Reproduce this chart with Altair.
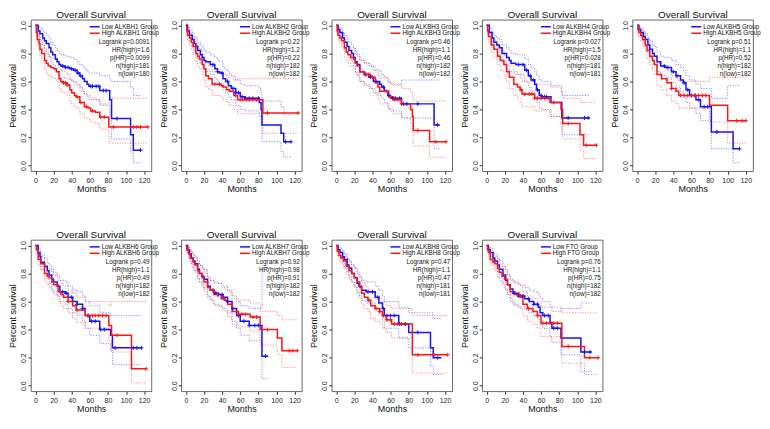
import altair as alt
import pandas as pd
import numpy as np

FONT = "Liberation Sans Narrow, Liberation Sans, Arial, sans-serif"
BLUE = "#1414ff"
RED = "#ff1414"

GENES = ["ALKBH1", "ALKBH2", "ALKBH3", "ALKBH4", "ALKBH5", "ALKBH6", "ALKBH7", "ALKBH8", "FTO"]

# rows: (months, survival, lower CI, upper CI)
LOW_ALKBH1 = [(0,1.0,1.0,1.0),(3,0.96,0.93,0.99),(5,0.94,0.90,0.98),(8,0.91,0.86,0.96),(10,0.89,0.84,0.95),(12,0.87,0.81,0.93),(15,0.84,0.78,0.91),(17,0.81,0.74,0.88),(19,0.79,0.72,0.86),(22,0.76,0.69,0.84),(24,0.74,0.66,0.82),(26,0.72,0.64,0.80),(28,0.71,0.63,0.79),(33,0.70,0.62,0.78),(38,0.69,0.61,0.77),(42,0.68,0.60,0.76),(46,0.66,0.58,0.74),(49,0.64,0.56,0.72),(52,0.62,0.53,0.71),(54,0.60,0.51,0.69),(57,0.58,0.49,0.67),(59,0.565,0.47,0.66),(71,0.535,0.43,0.64),(82,0.47,0.36,0.61),(84,0.335,0.19,0.60),(105,0.22,0.09,0.56),(108,0.11,0.02,0.50),(116,0.11,0.02,0.50)]
HIGH_ALKBH1 = [(0,1.0,1.0,1.0),(1,0.95,0.92,0.98),(2,0.90,0.86,0.95),(4,0.87,0.82,0.92),(5,0.83,0.78,0.89),(7,0.80,0.74,0.86),(10,0.75,0.69,0.82),(12,0.73,0.66,0.80),(14,0.71,0.64,0.78),(17,0.70,0.63,0.77),(20,0.69,0.62,0.76),(23,0.67,0.60,0.74),(26,0.62,0.55,0.69),(28,0.60,0.53,0.68),(30,0.59,0.52,0.67),(35,0.575,0.50,0.65),(38,0.54,0.46,0.62),(40,0.52,0.44,0.60),(43,0.50,0.42,0.58),(45,0.49,0.41,0.57),(49,0.45,0.37,0.53),(54,0.42,0.34,0.51),(58,0.41,0.33,0.50),(61,0.39,0.31,0.48),(66,0.38,0.30,0.47),(71,0.345,0.26,0.44),(81,0.275,0.16,0.48),(124,0.275,0.16,0.48)]

LOW_ALKBH2 = [(0,1.0,1.0,1.0),(2,0.96,0.93,0.99),(4,0.93,0.89,0.97),(7,0.90,0.85,0.95),(9,0.87,0.82,0.92),(11,0.85,0.80,0.91),(13,0.82,0.76,0.88),(16,0.79,0.73,0.86),(18,0.77,0.71,0.84),(20,0.75,0.69,0.82),(22,0.74,0.67,0.81),(27,0.72,0.65,0.79),(32,0.69,0.62,0.77),(35,0.67,0.60,0.75),(37,0.66,0.58,0.74),(41,0.62,0.54,0.70),(44,0.60,0.52,0.68),(47,0.57,0.49,0.66),(50,0.55,0.47,0.64),(55,0.52,0.43,0.61),(60,0.49,0.40,0.58),(65,0.48,0.39,0.57),(81,0.45,0.35,0.55),(83,0.40,0.29,0.52),(84,0.29,0.17,0.46),(105,0.23,0.10,0.42),(108,0.17,0.06,0.36),(116,0.17,0.06,0.36)]
HIGH_ALKBH2 = [(0,1.0,1.0,1.0),(1,0.96,0.93,0.99),(2,0.93,0.89,0.97),(4,0.91,0.86,0.95),(6,0.88,0.83,0.93),(8,0.85,0.79,0.91),(11,0.80,0.74,0.87),(13,0.78,0.71,0.85),(15,0.76,0.69,0.83),(18,0.72,0.65,0.80),(20,0.69,0.61,0.77),(22,0.64,0.56,0.73),(25,0.62,0.54,0.71),(29,0.58,0.50,0.67),(39,0.57,0.49,0.66),(41,0.56,0.47,0.65),(45,0.54,0.45,0.64),(48,0.53,0.43,0.63),(53,0.50,0.40,0.61),(57,0.47,0.37,0.62),(85,0.375,0.23,0.62),(124,0.375,0.23,0.62)]

LOW_ALKBH3 = [(0,1.0,1.0,1.0),(2,0.97,0.95,0.99),(4,0.95,0.92,0.98),(7,0.91,0.87,0.95),(9,0.88,0.83,0.93),(12,0.85,0.80,0.91),(14,0.82,0.76,0.88),(17,0.80,0.74,0.86),(19,0.77,0.71,0.84),(21,0.74,0.67,0.81),(23,0.72,0.65,0.79),(26,0.67,0.60,0.75),(31,0.65,0.58,0.73),(36,0.63,0.55,0.71),(41,0.60,0.52,0.68),(48,0.58,0.50,0.67),(50,0.56,0.48,0.65),(53,0.53,0.45,0.63),(57,0.50,0.41,0.60),(60,0.48,0.39,0.58),(72,0.44,0.34,0.61),(108,0.29,0.12,0.61),(114,0.29,0.12,0.61)]
HIGH_ALKBH3 = [(0,1.0,1.0,1.0),(1,0.96,0.93,0.99),(2,0.93,0.89,0.97),(4,0.91,0.87,0.95),(6,0.89,0.84,0.94),(9,0.84,0.78,0.90),(11,0.81,0.75,0.87),(13,0.79,0.73,0.85),(16,0.77,0.71,0.84),(19,0.76,0.69,0.83),(21,0.73,0.66,0.80),(23,0.71,0.64,0.78),(26,0.67,0.60,0.75),(31,0.65,0.57,0.73),(38,0.63,0.55,0.71),(43,0.59,0.51,0.68),(46,0.56,0.47,0.65),(48,0.53,0.44,0.62),(58,0.49,0.40,0.59),(63,0.47,0.37,0.57),(72,0.44,0.34,0.55),(82,0.40,0.30,0.52),(84,0.35,0.24,0.49),(85,0.25,0.14,0.46),(103,0.17,0.06,0.46),(121,0.17,0.06,0.46)]

LOW_ALKBH4 = [(0,1.0,1.0,1.0),(3,0.95,0.92,0.98),(6,0.91,0.87,0.95),(8,0.88,0.83,0.93),(11,0.86,0.81,0.91),(14,0.84,0.78,0.90),(17,0.80,0.74,0.86),(22,0.77,0.70,0.84),(25,0.75,0.68,0.82),(27,0.73,0.66,0.80),(32,0.72,0.65,0.79),(42,0.68,0.60,0.76),(46,0.64,0.56,0.72),(49,0.61,0.53,0.70),(53,0.58,0.49,0.67),(55,0.54,0.45,0.64),(58,0.50,0.41,0.61),(61,0.49,0.40,0.60),(71,0.45,0.35,0.57),(83,0.34,0.22,0.50),(114,0.34,0.22,0.50)]
HIGH_ALKBH4 = [(0,1.0,1.0,1.0),(1,0.96,0.93,0.99),(2,0.92,0.88,0.96),(5,0.86,0.81,0.91),(8,0.83,0.77,0.89),(12,0.78,0.72,0.85),(15,0.75,0.68,0.82),(19,0.72,0.65,0.79),(22,0.67,0.60,0.75),(25,0.63,0.55,0.71),(30,0.58,0.50,0.67),(34,0.56,0.48,0.65),(37,0.54,0.45,0.63),(39,0.51,0.42,0.60),(53,0.48,0.39,0.58),(70,0.45,0.35,0.56),(82,0.40,0.30,0.53),(84,0.30,0.19,0.48),(103,0.22,0.11,0.45),(107,0.145,0.05,0.45),(121,0.145,0.05,0.45)]

LOW_ALKBH5 = [(0,1.0,1.0,1.0),(2,0.97,0.95,0.99),(4,0.95,0.92,0.98),(7,0.92,0.88,0.96),(9,0.90,0.85,0.94),(12,0.86,0.81,0.91),(14,0.83,0.77,0.89),(17,0.80,0.74,0.86),(19,0.78,0.72,0.85),(22,0.74,0.67,0.81),(26,0.71,0.64,0.78),(31,0.70,0.63,0.77),(38,0.67,0.59,0.75),(43,0.64,0.56,0.72),(48,0.61,0.53,0.70),(51,0.59,0.50,0.68),(54,0.54,0.45,0.64),(58,0.50,0.41,0.61),(65,0.47,0.37,0.58),(70,0.42,0.32,0.55),(82,0.24,0.12,0.48),(100,0.24,0.12,0.57),(106,0.12,0.02,0.57),(113,0.12,0.02,0.57)]
HIGH_ALKBH5 = [(0,1.0,1.0,1.0),(1,0.97,0.95,0.99),(2,0.95,0.92,0.98),(4,0.93,0.89,0.97),(6,0.90,0.85,0.94),(9,0.86,0.81,0.91),(11,0.82,0.76,0.88),(14,0.78,0.72,0.85),(17,0.75,0.68,0.82),(19,0.72,0.65,0.79),(22,0.65,0.57,0.73),(27,0.62,0.54,0.71),(33,0.59,0.50,0.68),(38,0.55,0.46,0.64),(43,0.53,0.44,0.62),(46,0.50,0.41,0.60),(80,0.43,0.31,0.63),(100,0.32,0.16,0.63),(120,0.32,0.16,0.63)]

LOW_ALKBH6 = [(0,1.0,1.0,1.0),(3,0.95,0.92,0.98),(5,0.92,0.88,0.96),(6,0.88,0.83,0.93),(10,0.85,0.80,0.91),(13,0.82,0.76,0.88),(15,0.79,0.73,0.86),(18,0.76,0.69,0.83),(20,0.74,0.67,0.81),(24,0.71,0.64,0.78),(27,0.67,0.60,0.75),(33,0.66,0.58,0.74),(36,0.63,0.55,0.71),(41,0.60,0.52,0.68),(46,0.58,0.50,0.67),(52,0.55,0.46,0.64),(55,0.50,0.41,0.60),(60,0.46,0.36,0.57),(71,0.40,0.30,0.52),(83,0.36,0.25,0.50),(85,0.27,0.15,0.50),(117,0.27,0.15,0.50)]
HIGH_ALKBH6 = [(0,1.0,1.0,1.0),(1,0.97,0.95,0.99),(3,0.90,0.86,0.94),(6,0.87,0.82,0.92),(10,0.80,0.74,0.86),(13,0.78,0.72,0.84),(15,0.77,0.70,0.83),(18,0.74,0.67,0.81),(20,0.72,0.65,0.79),(25,0.67,0.60,0.75),(28,0.65,0.57,0.73),(31,0.63,0.55,0.71),(36,0.60,0.52,0.68),(41,0.57,0.48,0.66),(45,0.54,0.45,0.63),(55,0.50,0.41,0.60),(81,0.43,0.32,0.57),(84,0.36,0.24,0.60),(106,0.12,0.02,0.60),(122,0.12,0.02,0.60)]

LOW_ALKBH7 = [(0,1.0,1.0,1.0),(2,0.97,0.95,0.99),(4,0.94,0.91,0.97),(6,0.91,0.87,0.95),(8,0.89,0.84,0.94),(10,0.87,0.82,0.92),(13,0.83,0.77,0.89),(15,0.80,0.74,0.86),(18,0.78,0.72,0.84),(20,0.76,0.69,0.83),(24,0.71,0.64,0.78),(27,0.68,0.61,0.75),(31,0.66,0.58,0.74),(36,0.65,0.57,0.73),(41,0.63,0.55,0.71),(46,0.60,0.52,0.68),(51,0.55,0.46,0.64),(56,0.50,0.41,0.60),(60,0.46,0.36,0.57),(70,0.43,0.32,0.55),(84,0.21,0.05,0.84),(91,0.21,0.05,0.84)]
HIGH_ALKBH7 = [(0,1.0,1.0,1.0),(1,0.97,0.95,0.99),(3,0.94,0.91,0.97),(5,0.91,0.87,0.95),(8,0.88,0.83,0.93),(10,0.86,0.81,0.91),(13,0.82,0.76,0.88),(15,0.80,0.74,0.86),(18,0.77,0.71,0.84),(20,0.74,0.67,0.81),(24,0.70,0.63,0.77),(27,0.68,0.61,0.75),(31,0.65,0.57,0.73),(39,0.62,0.54,0.70),(43,0.61,0.53,0.69),(46,0.58,0.49,0.67),(51,0.53,0.44,0.62),(58,0.51,0.42,0.61),(71,0.49,0.39,0.59),(82,0.40,0.29,0.53),(101,0.34,0.22,0.50),(106,0.25,0.13,0.47),(123,0.25,0.13,0.47)]

LOW_ALKBH8 = [(0,1.0,1.0,1.0),(2,0.97,0.95,0.99),(4,0.95,0.92,0.98),(7,0.92,0.88,0.96),(9,0.90,0.85,0.94),(12,0.86,0.81,0.91),(14,0.84,0.78,0.89),(17,0.80,0.74,0.86),(20,0.77,0.71,0.84),(23,0.73,0.66,0.80),(25,0.71,0.64,0.78),(28,0.68,0.61,0.75),(33,0.67,0.59,0.74),(43,0.63,0.55,0.71),(47,0.59,0.51,0.68),(51,0.55,0.46,0.64),(53,0.50,0.41,0.60),(69,0.44,0.34,0.56),(80,0.38,0.27,0.52),(104,0.27,0.14,0.52),(107,0.20,0.08,0.48),(116,0.20,0.08,0.48)]
HIGH_ALKBH8 = [(0,1.0,1.0,1.0),(1,0.96,0.93,0.99),(3,0.93,0.89,0.97),(5,0.91,0.87,0.95),(8,0.89,0.84,0.94),(11,0.85,0.79,0.91),(14,0.82,0.76,0.88),(17,0.80,0.74,0.86),(20,0.77,0.70,0.84),(23,0.74,0.67,0.81),(26,0.70,0.62,0.77),(28,0.66,0.58,0.74),(31,0.63,0.55,0.71),(35,0.61,0.53,0.69),(38,0.57,0.48,0.66),(43,0.55,0.46,0.64),(48,0.53,0.44,0.62),(51,0.50,0.41,0.60),(55,0.47,0.38,0.57),(61,0.44,0.34,0.55),(84,0.22,0.09,0.50),(123,0.22,0.09,0.50)]

LOW_FTO = [(0,1.0,1.0,1.0),(2,0.97,0.95,0.99),(4,0.95,0.92,0.98),(7,0.91,0.87,0.95),(9,0.89,0.84,0.94),(12,0.86,0.81,0.91),(14,0.83,0.77,0.89),(18,0.79,0.73,0.85),(21,0.75,0.68,0.82),(23,0.72,0.65,0.79),(26,0.69,0.62,0.76),(29,0.66,0.58,0.74),(35,0.64,0.56,0.72),(42,0.62,0.54,0.70),(47,0.60,0.52,0.68),(52,0.58,0.50,0.67),(57,0.56,0.47,0.65),(59,0.52,0.43,0.62),(62,0.50,0.41,0.60),(70,0.45,0.35,0.56),(72,0.41,0.31,0.53),(82,0.34,0.22,0.55),(104,0.24,0.10,0.59),(116,0.24,0.10,0.59)]
HIGH_FTO = [(0,1.0,1.0,1.0),(1,0.97,0.95,0.99),(2,0.95,0.92,0.98),(4,0.90,0.86,0.94),(7,0.88,0.83,0.93),(9,0.87,0.82,0.92),(12,0.84,0.78,0.90),(14,0.81,0.75,0.87),(17,0.78,0.72,0.85),(20,0.76,0.69,0.83),(23,0.72,0.65,0.79),(26,0.67,0.60,0.75),(31,0.65,0.57,0.73),(37,0.63,0.55,0.71),(40,0.58,0.50,0.67),(45,0.55,0.46,0.64),(51,0.53,0.44,0.62),(56,0.50,0.41,0.60),(60,0.445,0.35,0.56),(83,0.28,0.16,0.52),(108,0.20,0.08,0.52),(123,0.20,0.08,0.52)]

# censoring times (months)
CENS_LOW = [
    [30,33,36,40,44,47,50,61,63,67,70,75,78,90,116],
    [30,35,40,46,52,55,58,62,66,70,74,80,110,116],
    [32,38,44,52,58,62,65,70,74,78,90,112],
    [35,40,44,48,52,56,60,64,66,90,108,112],
    [30,34,40,44,52,56,60,64,68,74,78,88,113],
    [30,34,40,46,52,58,62,66,72,76,88,108,112,117],
    [30,33,36,40,46,52,58,64,70,76,80,88],
    [35,40,46,52,56,60,64,70,76,90,112],
    [30,35,40,46,52,56,64,68,74,78,108,114],
]
CENS_HIGH = [
    [31,33,35,46,50,56,63,72,76,86,108,112,116,124],
    [32,37,55,60,63,67,70,74,78,90,124],
    [33,36,40,55,60,64,68,72,90,110,121],
    [38,42,47,50,53,56,60,64,68,74,90,110,121],
    [38,48,52,56,60,64,68,72,76,110,116,120],
    [36,46,58,63,66,70,74,78,90,122],
    [30,35,42,58,62,66,74,78,90,114,118,123],
    [36,44,48,52,56,60,64,68,72,76,90,108,123],
    [36,46,56,62,66,70,74,78,90,114,123],
]

LOGRANK_P = ["0.0091", "0.22", "0.46", "0.027", "0.51", "0.49", "0.92", "0.47", "0.76"]
HR_HIGH = ["1.6", "1.2", "1.1", "1.5", "1.1", "1.1", "0.98", "1.1", "1.1"]
P_HR = ["0.0099", "0.22", "0.46", "0.028", "0.52", "0.49", "0.91", "0.47", "0.75"]
N_HIGH = [181, 182, 182, 181, 182, 182, 182, 181, 182]
N_LOW = [180, 182, 182, 181, 182, 182, 182, 181, 182]

LOW_ROWS = [LOW_ALKBH1, LOW_ALKBH2, LOW_ALKBH3, LOW_ALKBH4, LOW_ALKBH5, LOW_ALKBH6, LOW_ALKBH7, LOW_ALKBH8, LOW_FTO]
HIGH_ROWS = [HIGH_ALKBH1, HIGH_ALKBH2, HIGH_ALKBH3, HIGH_ALKBH4, HIGH_ALKBH5, HIGH_ALKBH6, HIGH_ALKBH7, HIGH_ALKBH8, HIGH_FTO]

W, H = 121, 152
COLOR = alt.Color("grp:N", scale=alt.Scale(domain=["Low", "High"], range=[BLUE, RED]), legend=None)
XS = alt.Scale(domain=[-5, 128], nice=False, zero=False)
YS = alt.Scale(domain=[-0.04, 1.04], nice=False, zero=False)
X_AXIS = alt.Axis(values=[0, 20, 40, 60, 80, 100, 120], title="Months", labelPadding=2, titlePadding=1)
Y_AXIS = alt.Axis(values=[0, 0.2, 0.4, 0.6, 0.8, 1.0], format=".1f", labelAngle=-90,
                  labelAlign="center", labelBaseline="bottom", labelPadding=1,
                  title="Percent survival", titlePadding=2)


def curve_df(rows, grp):
    df = pd.DataFrame(rows, columns=["t", "s", "lo", "up"])
    df["grp"] = grp
    return df


def cens_df(rows, times, grp):
    ts = [r[0] for r in rows]
    ss = [r[1] for r in rows]
    ys = [ss[int(np.searchsorted(ts, c, side="right")) - 1] for c in times]
    return pd.DataFrame({"t": times, "s": ys, "grp": grp})


def xy(field):
    return dict(x=alt.X("t:Q", scale=XS, axis=X_AXIS),
                y=alt.Y(f"{field}:Q", scale=YS, axis=Y_AXIS))


def panel(i):
    gene = GENES[i]
    curves = pd.concat([curve_df(LOW_ROWS[i], "Low"), curve_df(HIGH_ROWS[i], "High")], ignore_index=True)
    cens = pd.concat([cens_df(LOW_ROWS[i], CENS_LOW[i], "Low"),
                      cens_df(HIGH_ROWS[i], CENS_HIGH[i], "High")], ignore_index=True)
    base = alt.Chart(curves)
    ci_lo = base.mark_line(interpolate="step-after", strokeWidth=0.9, strokeDash=[1.2, 1.4], opacity=0.55).encode(
        color=COLOR, **xy("lo"))
    ci_up = base.mark_line(interpolate="step-after", strokeWidth=0.9, strokeDash=[1.2, 1.4], opacity=0.55).encode(
        color=COLOR, **xy("up"))
    main = base.mark_line(interpolate="step-after", strokeWidth=1.5).encode(color=COLOR, **xy("s"))
    marks = alt.Chart(cens).mark_point(shape="M0,-1V1M-1,0H1", size=16, strokeWidth=1, filled=False, opacity=1).encode(
        color=COLOR, **xy("s"))

    leg = pd.DataFrame({"grp": ["Low", "High"],
                        "label": [f"Low {gene} Group", f"High {gene} Group"],
                        "py": [7, 13.5]})
    leg_rule = alt.Chart(leg).mark_rule(strokeWidth=1.5).encode(
        x=alt.value(W - 62), x2=alt.value(W - 52), y=alt.Y("py:Q", scale=None, axis=None), color=COLOR)
    leg_text = alt.Chart(leg).mark_text(align="left", baseline="middle", fontSize=6.3, font=FONT, color="#111").encode(
        x=alt.value(W - 50), y=alt.Y("py:Q", scale=None, axis=None), text="label:N")

    stats = pd.DataFrame({
        "label": [f"Logrank p={LOGRANK_P[i]}", f"HR(high)={HR_HIGH[i]}", f"p(HR)={P_HR[i]}",
                  f"n(high)={N_HIGH[i]}", f"n(low)={N_LOW[i]}"],
        "py": [22.5, 30.5, 38.5, 46.5, 54.5]})
    stat_text = alt.Chart(stats).mark_text(align="right", baseline="middle", fontSize=6.3, font=FONT, color="#111").encode(
        x=alt.value(W - 2), y=alt.Y("py:Q", scale=None, axis=None), text="label:N")

    return alt.layer(ci_lo, ci_up, main, marks, leg_rule, leg_text, stat_text).properties(
        width=W, height=H,
        title=alt.TitleParams("Overall Survival", fontSize=10, font=FONT, fontWeight="normal",
                              offset=0, anchor="middle", color="#111"))


panels = [panel(i) for i in range(len(GENES))]
top = alt.hconcat(*panels[:5], spacing=30, bounds="flush")
bottom = alt.hconcat(*panels[5:], spacing=30, bounds="flush")
chart = alt.vconcat(top, bottom, spacing=35).properties(
    padding={"left": 0, "top": 0, "right": 0, "bottom": 0}, background="white"
).configure_view(stroke="#444", strokeWidth=0.8).configure_axis(
    grid=False, domain=False, tickColor="#333", tickSize=3, labelFont=FONT, titleFont=FONT,
    labelFontSize=7, titleFontSize=9, labelColor="#222", titleColor="#111", titleFontWeight="normal")

chart.save("out.html", embed_options={"renderer": "svg", "actions": False})
